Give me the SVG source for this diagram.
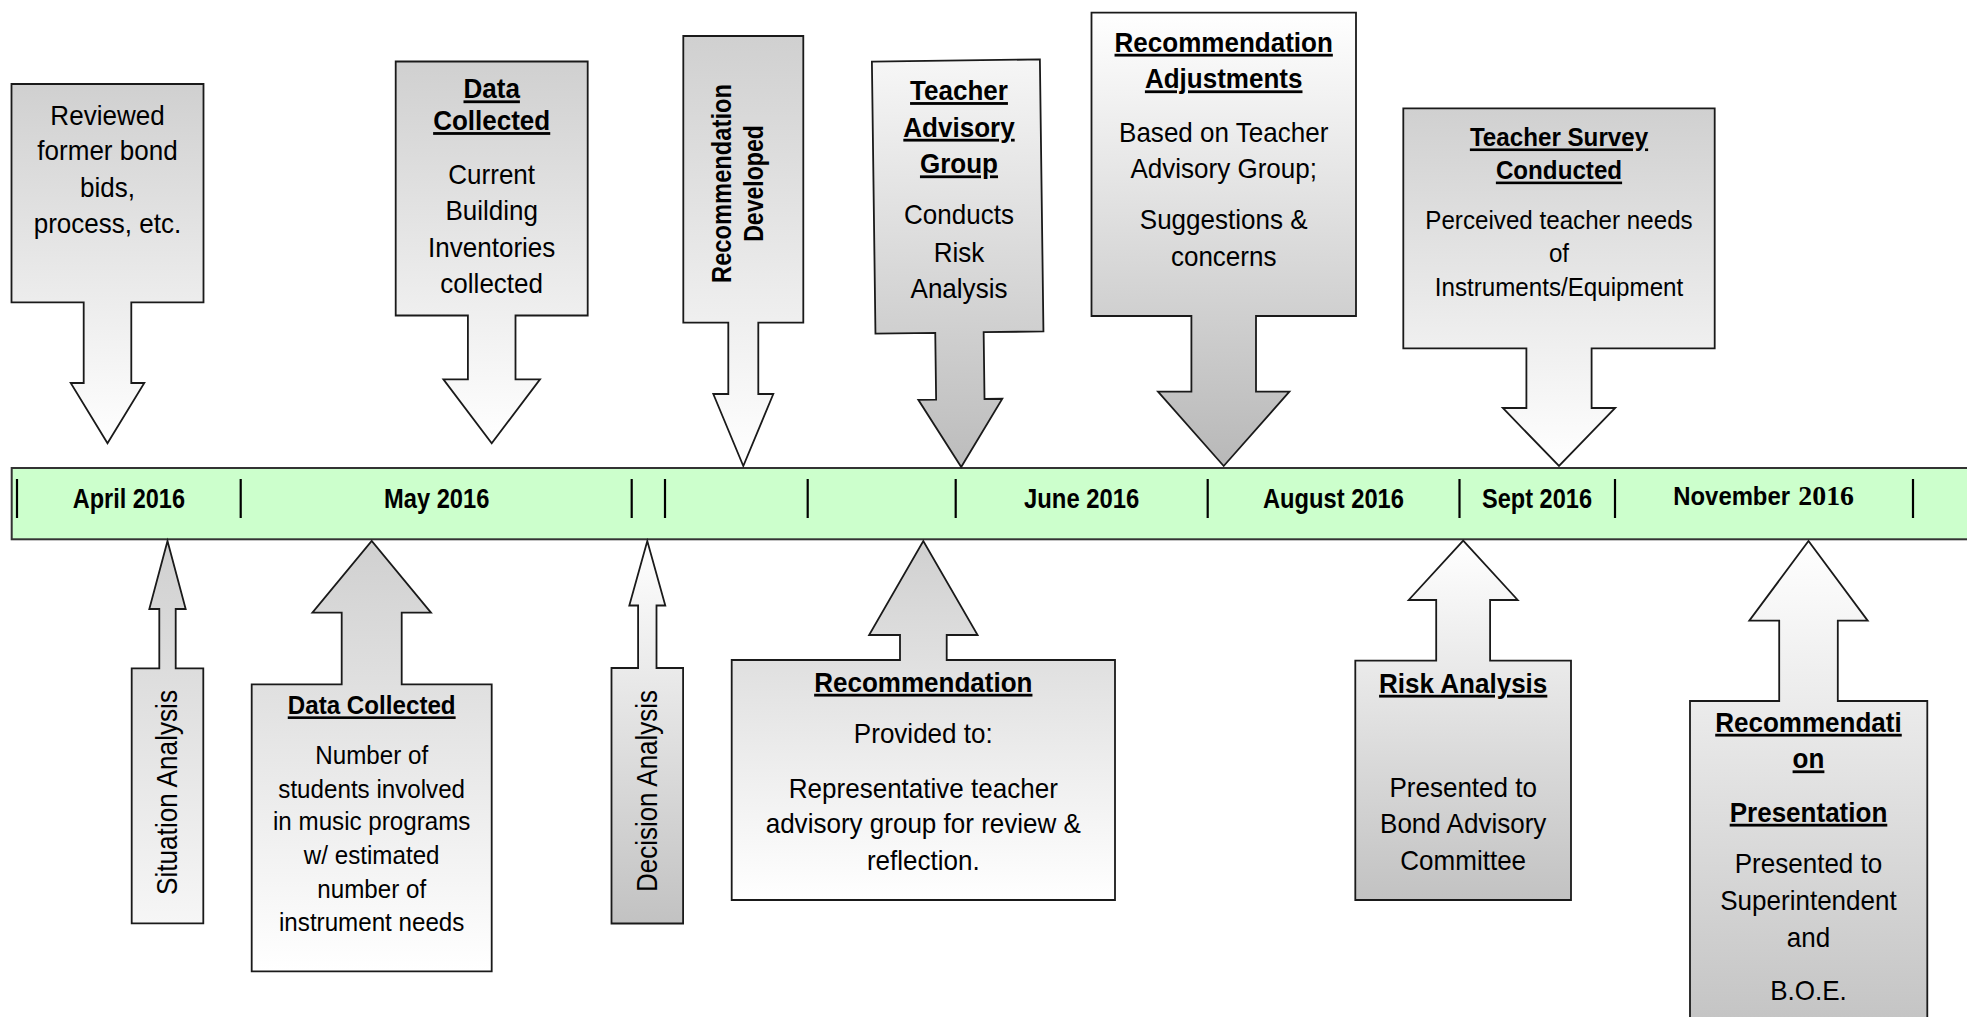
<svg xmlns="http://www.w3.org/2000/svg" width="1967" height="1017" viewBox="0 0 1967 1017">
<style>
  .shape{stroke:#1a1a1a;stroke-width:1.8;stroke-linejoin:miter}
  text{font-family:"Liberation Sans",Arial,sans-serif;fill:#000}
  .t{font-size:28px;text-anchor:middle}
  .s{font-size:26px;text-anchor:middle}
  .h{font-weight:bold;text-decoration:underline}
  .date{font-size:27px;font-weight:bold}
  .tick{stroke:#000;stroke-width:2.2}
</style>
<defs>
  <linearGradient id="gTopGray" x1="0" y1="0" x2="0" y2="1">
    <stop offset="0" stop-color="#d0d0d0"/><stop offset="1" stop-color="#ffffff"/>
  </linearGradient>
  <linearGradient id="gBotGray" x1="0" y1="0" x2="0" y2="1">
    <stop offset="0" stop-color="#ffffff"/><stop offset="1" stop-color="#b8b8b8"/>
  </linearGradient>
  <linearGradient id="gTeach" x1="0" y1="0" x2="0" y2="1">
    <stop offset="0" stop-color="#f6f6f6"/><stop offset="1" stop-color="#bcbcbc"/>
  </linearGradient>
  <linearGradient id="gSit" x1="0" y1="0" x2="0" y2="1">
    <stop offset="0" stop-color="#d0d0d0"/><stop offset="1" stop-color="#f6f6f6"/>
  </linearGradient>
  <linearGradient id="gUpRev" x1="0" y1="0" x2="0" y2="1">
    <stop offset="0" stop-color="#ffffff"/><stop offset="1" stop-color="#c2c2c2"/>
  </linearGradient>
</defs>
<rect width="1967" height="1017" fill="#ffffff"/>

<g id="timeline">
  <rect x="11.7" y="468" width="1962" height="71.3" fill="#ccffcc" stroke="#333" stroke-width="2"/>
  <g class="ticks">
    <line class="tick" x1="17" y1="479" x2="17" y2="518"/>
    <line class="tick" x1="240.7" y1="479" x2="240.7" y2="518"/>
    <line class="tick" x1="631.7" y1="479" x2="631.7" y2="518"/>
    <line class="tick" x1="665" y1="479" x2="665" y2="518"/>
    <line class="tick" x1="807.7" y1="479" x2="807.7" y2="518"/>
    <line class="tick" x1="955.7" y1="479" x2="955.7" y2="518"/>
    <line class="tick" x1="1207.7" y1="479" x2="1207.7" y2="518"/>
    <line class="tick" x1="1459.5" y1="479" x2="1459.5" y2="518"/>
    <line class="tick" x1="1615" y1="479" x2="1615" y2="518"/>
    <line class="tick" x1="1913" y1="479" x2="1913" y2="518"/>
  </g>
  <text class="date" x="72.7" y="508.3" textLength="112.3" lengthAdjust="spacingAndGlyphs">April 2016</text>
  <text class="date" x="384" y="508.3" textLength="105.3" lengthAdjust="spacingAndGlyphs">May 2016</text>
  <text class="date" x="1024" y="508.3" textLength="115.3" lengthAdjust="spacingAndGlyphs">June 2016</text>
  <text class="date" x="1263" y="508.3" textLength="141" lengthAdjust="spacingAndGlyphs">August 2016</text>
  <text class="date" x="1482" y="508.3" textLength="110" lengthAdjust="spacingAndGlyphs">Sept 2016</text>
  <text class="date" x="1673.3" y="505" style="font-size:26px" textLength="116.7" lengthAdjust="spacingAndGlyphs">November</text>
  <text x="1798.3" y="505" style="font-family:'Liberation Serif','Times New Roman',serif;font-weight:bold;font-size:27px" textLength="55.7" lengthAdjust="spacingAndGlyphs">2016</text>
</g>

<g id="connectors"></g>

<!-- Top (down) arrows -->
<g id="n-reviewed">
  <path class="shape" fill="url(#gTopGray)" d="M11.5,84 H203.5 V302.3 H131.3 V383 H144.3 L107.5,443.3 L70.7,383 H83.7 V302.3 H11.5 Z"/>
  <g transform="matrix(0.93,0,0,1,7.525,0)">
    <text class="t" x="107.5" y="125">Reviewed</text>
    <text class="t" x="107.5" y="160">former bond</text>
    <text class="t" x="107.5" y="196.7">bids,</text>
    <text class="t" x="107.5" y="233.3">process, etc.</text>
  </g>
</g>

<g id="n-data-top">
  <path class="shape" fill="url(#gTopGray)" d="M395.7,61.5 H587.7 V315.5 H515.5 V379.3 H540 L491.7,443.3 L443.4,379.3 H467.9 V315.5 H395.7 Z"/>
  <g transform="matrix(0.93,0,0,1,34.419,0)">
    <text class="t h" x="491.7" y="98.3">Data</text>
    <text class="t h" x="491.7" y="130">Collected</text>
    <text class="t" x="491.7" y="184">Current</text>
    <text class="t" x="491.7" y="220">Building</text>
    <text class="t" x="491.7" y="256.7">Inventories</text>
    <text class="t" x="491.7" y="293.3">collected</text>
  </g>
</g>

<g id="n-rec-developed">
  <path class="shape" fill="url(#gTopGray)" d="M683.3,36 H803.3 V322.7 H758.3 V394 H773.3 L743.3,466 L713.3,394 H728.3 V322.7 H683.3 Z"/>
  <text transform="translate(730.5,183.5) rotate(-90)" style="font-size:28px;font-weight:bold;text-anchor:middle" textLength="199" lengthAdjust="spacingAndGlyphs">Recommendation</text>
  <text transform="translate(763.3,183.5) rotate(-90)" style="font-size:28px;font-weight:bold;text-anchor:middle" textLength="116.7" lengthAdjust="spacingAndGlyphs">Developed</text>
</g>

<g id="n-teacher-advisory">
  <path class="shape" fill="url(#gTeach)" transform="rotate(-0.75 958.5 260)" d="M874.5,60.5 H1042.5 V332.5 H982.7 V399.3 H1000.5 L958.5,467 L916.5,399.3 H934.3 V332.5 H874.5 Z"/>
  <g transform="matrix(0.93,0,0,1,67.13,0)">
    <text class="t h" x="959" y="100">Teacher</text>
    <text class="t h" x="959" y="136.7">Advisory</text>
    <text class="t h" x="959" y="173.3">Group</text>
    <text class="t" x="959" y="224">Conducts</text>
    <text class="t" x="959" y="261.7">Risk</text>
    <text class="t" x="959" y="298.3">Analysis</text>
  </g>
</g>

<g id="n-rec-adjustments">
  <path class="shape" fill="url(#gBotGray)" d="M1091.5,12.7 H1356 V316 H1256 V391.7 H1289.4 L1223.7,466 L1158,391.7 H1191.4 V316 H1091.5 Z"/>
  <g transform="matrix(0.93,0,0,1,85.659,0)">
    <text class="t h" x="1223.7" y="51.7">Recommendation</text>
    <text class="t h" x="1223.7" y="88.3">Adjustments</text>
    <text class="t" x="1223.7" y="141.7">Based on Teacher</text>
    <text class="t" x="1223.7" y="178.3">Advisory Group;</text>
    <text class="t" x="1223.7" y="229.5">Suggestions &amp;</text>
    <text class="t" x="1223.7" y="266">concerns</text>
  </g>
</g>

<g id="n-teacher-survey">
  <path class="shape" fill="url(#gTopGray)" d="M1403.3,108.3 H1714.7 V348.3 H1591.6 V408 H1615.2 L1559,466 L1502.8,408 H1526.4 V348.3 H1403.3 Z"/>
  <g transform="matrix(0.93,0,0,1,109.13,0)">
    <text class="s h" x="1559" y="146.4">Teacher Survey</text>
    <text class="s h" x="1559" y="179.5">Conducted</text>
    <text class="s" x="1559" y="229.5">Perceived teacher needs</text>
    <text class="s" x="1559" y="262.5">of</text>
    <text class="s" x="1559" y="296.5">Instruments/Equipment</text>
  </g>
</g>

<!-- Bottom (up) arrows -->
<g id="n-situation">
  <path class="shape" fill="url(#gSit)" d="M131.7,923.3 H203.3 V668.3 H175.7 V609 H185.7 L167.5,541 L149.3,609 H159.3 V668.3 H131.7 Z"/>
  <text transform="translate(176.5,792.5) rotate(-90)" style="font-size:29px;text-anchor:middle" textLength="205" lengthAdjust="spacingAndGlyphs">Situation Analysis</text>
</g>

<g id="n-data-bottom">
  <path class="shape" fill="url(#gTopGray)" d="M251.7,971.3 H491.7 V684.3 H401.7 V612.7 H431 L371.7,541 L312.4,612.7 H341.7 V684.3 H251.7 Z"/>
  <g transform="matrix(0.93,0,0,1,26.019,0)">
    <text class="s h" x="371.7" y="714.3">Data Collected</text>
    <text class="s" x="371.7" y="764.3">Number of</text>
    <text class="s" x="371.7" y="797.7">students involved</text>
    <text class="s" x="371.7" y="830.5">in music programs</text>
    <text class="s" x="371.7" y="864.3">w/ estimated</text>
    <text class="s" x="371.7" y="898">number of</text>
    <text class="s" x="371.7" y="931">instrument needs</text>
  </g>
</g>

<g id="n-decision">
  <path class="shape" fill="url(#gUpRev)" d="M611.5,923.5 H683.1 V668 H656.5 V605.5 H665.3 L647.3,541 L629.3,605.5 H638.1 V668 H611.5 Z"/>
  <text transform="translate(657,791) rotate(-90)" style="font-size:29px;text-anchor:middle" textLength="202" lengthAdjust="spacingAndGlyphs">Decision Analysis</text>
</g>

<g id="n-recommendation">
  <path class="shape" fill="url(#gTopGray)" d="M731.7,900 H1115 V660 H946.7 V635 H977.6 L923.3,541 L869.1,635 H900 V660 H731.7 Z"/>
  <g transform="matrix(0.93,0,0,1,64.631,0)">
    <text class="t h" x="923.3" y="691.7">Recommendation</text>
    <text class="t" x="923.3" y="743.3">Provided to:</text>
    <text class="t" x="923.3" y="798.3">Representative teacher</text>
    <text class="t" x="923.3" y="833.3">advisory group for review &amp;</text>
    <text class="t" x="923.3" y="870">reflection.</text>
  </g>
</g>

<g id="n-risk">
  <path class="shape" fill="url(#gUpRev)" d="M1355.3,900 H1571 V660.7 H1490.1 V600 H1517.7 L1463.2,540.7 L1408.7,600 H1436.2 V660.7 H1355.3 Z"/>
  <g transform="matrix(0.93,0,0,1,102.424,0)">
    <text class="t h" x="1463.2" y="692.7">Risk Analysis</text>
    <text class="t" x="1463.2" y="796.7">Presented to</text>
    <text class="t" x="1463.2" y="833.3">Bond Advisory</text>
    <text class="t" x="1463.2" y="870">Committee</text>
  </g>
</g>

<g id="n-rec-presentation">
  <path class="shape" fill="url(#gUpRev)" d="M1690,1040 H1927.3 V701 H1837.8 V620.7 H1867.7 L1808.5,541 L1749.3,620.7 H1779.2 V701 H1690 Z"/>
  <g transform="matrix(0.93,0,0,1,126.595,0)">
    <text class="t h" x="1808.5" y="731.7">Recommendati</text>
    <text class="t h" x="1808.5" y="768.3">on</text>
    <text class="t h" x="1808.5" y="821.7">Presentation</text>
    <text class="t" x="1808.5" y="873.3">Presented to</text>
    <text class="t" x="1808.5" y="910">Superintendent</text>
    <text class="t" x="1808.5" y="946.7">and</text>
    <text class="t" x="1808.5" y="1000">B.O.E.</text>
  </g>
</g>
</svg>
